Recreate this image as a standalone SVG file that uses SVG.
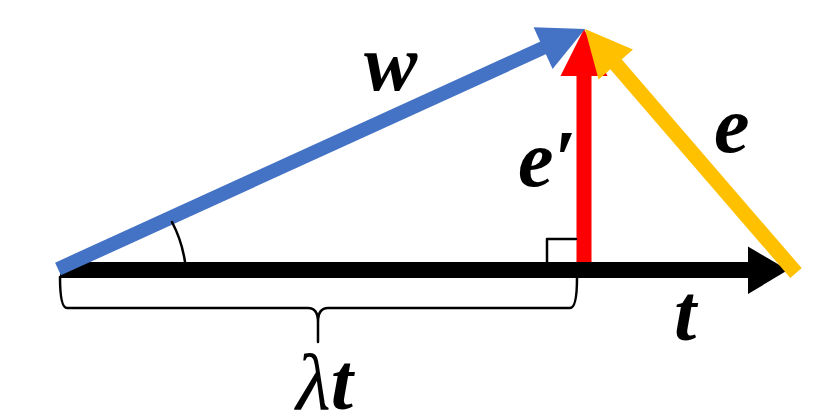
<svg xmlns="http://www.w3.org/2000/svg" width="818" height="416" viewBox="0 0 818 416">
<style>
.lbl{font-family:"Liberation Serif","Times New Roman",serif;font-style:italic;font-weight:bold;font-size:80px;fill:#000}
.thin{fill:none;stroke:#000;stroke-width:2.5;stroke-linejoin:round;stroke-linecap:round}
</style>
<rect width="818" height="416" fill="#fff"/>
<g id="connectors">
<g id="vec-t">
<line x1="60" y1="270" x2="750" y2="270" stroke="#000" stroke-width="16"/>
<polygon points="788,270 748,246.5 748,294" fill="#000"/>
</g>
<g id="vec-eprime">
<line x1="584" y1="262" x2="584" y2="74" stroke="#ff0000" stroke-width="15"/>
<polygon points="584,29 560.5,76 607.5,76" fill="#ff0000"/>
</g>
<g id="vec-w">
<line x1="58" y1="269" x2="545" y2="47" stroke="#4472c4" stroke-width="14"/>
<polygon points="585,29 533.6,27.2 552.6,69" fill="#4472c4"/>
</g>
<g id="vec-e">
<line x1="796" y1="273" x2="614" y2="62" stroke="#ffc000" stroke-width="15"/>
<polygon points="585,29 633,49.5 598.6,79.5" fill="#ffc000"/>
</g>
</g>
<g id="angle-mark">
<path class="thin" d="M185,262 A125,125 0 0 0 172,222"/>
</g>
<g id="right-angle">
<polyline class="thin" stroke-width="2" points="547,262 547,239 576,239"/>
</g>
<g id="brace">
<path class="thin" d="M60,277 Q60,308 67,308 H308 Q318,308 318,322 V342 M318,322 Q318,308 328,308 H570 Q577,308 577,278"/>
</g>
<g id="label-w"><text class="lbl" x="364" y="90" font-size="82">w</text></g>
<g id="label-eprime"><text class="lbl" x="518" y="186">e′</text></g>
<g id="label-e"><text class="lbl" x="714" y="152">e</text></g>
<g id="label-t"><text class="lbl" x="674" y="340">t</text></g>
<g id="label-lambda-t"><text class="lbl" x="296" y="409" font-size="76"><tspan font-weight="normal">λ</tspan>t</text></g>
</svg>
